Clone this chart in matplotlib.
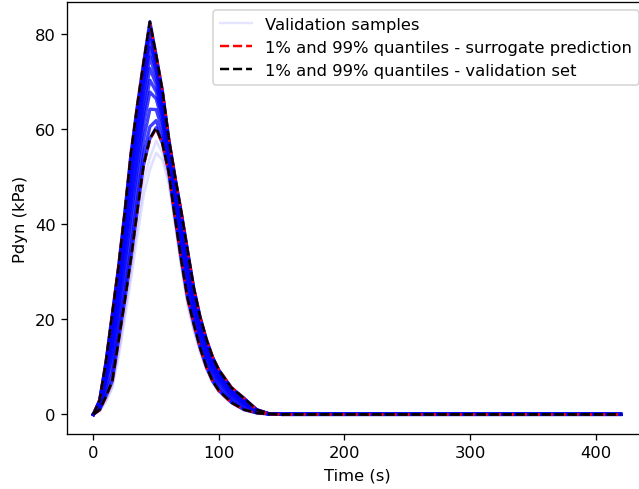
import numpy as np
import matplotlib
matplotlib.use('Agg')
import matplotlib.pyplot as plt

# time grid (s)
time = [0, 5, 10, 15, 20, 25, 30, 35, 40, 45, 50, 55, 60, 65, 70, 75, 80, 85, 90,
        95, 100, 110, 120, 130, 140, 150, 420]

# 99% and 1% quantiles of the validation set
q99_val = [0, 3.0, 11.0, 21.0, 31.0, 42.5, 55.0, 65.0, 74.0, 82.6, 75.5, 68.0, 58.0, 50.0,
           42.5, 34.5, 26.5, 20.5, 15.8, 12.0, 9.3, 5.6, 3.4, 1.0, 0.15, 0, 0]
q01_val = [0, 1.0, 3.8, 7.0, 15.5, 24.0, 33.0, 43.0, 52.5, 58.0, 60.3, 57.0, 51.0, 41.5,
           32.5, 24.5, 19.0, 14.0, 10.0, 7.0, 5.0, 2.5, 1.0, 0.3, 0.05, 0, 0]

# same quantiles from the surrogate prediction
q99_sur = [0, 3.1, 11.2, 21.2, 31.3, 42.8, 55.2, 65.2, 74.1, 82.4, 75.6, 68.2, 58.3, 50.2,
           42.7, 34.6, 26.6, 20.6, 15.9, 12.1, 9.4, 5.7, 3.4, 1.0, 0.15, 0, 0]
q01_sur = [0, 0.9, 3.7, 6.9, 15.3, 23.8, 32.8, 42.8, 52.3, 57.8, 60.1, 56.8, 50.8, 41.3,
           32.3, 24.3, 18.9, 13.9, 9.9, 6.9, 4.9, 2.4, 1.0, 0.3, 0.05, 0, 0]

# validation samples (bulk of the set)
samples = [
    q99_val,
    q01_val,
    [0, 1.2, 4.5, 8.4, 17.1, 25.9, 35.2, 45.2, 54.7, 60.5, 61.8, 58.1, 51.7, 42.4, 33.5, 25.5, 19.8, 14.7, 10.6, 7.5, 5.4, 2.8, 1.2, 0.4, 0.1, 0, 0],
    [0, 1.5, 5.6, 10.5, 19.4, 28.6, 38.5, 48.5, 57.9, 64.2, 64.1, 59.8, 52.8, 43.6, 35.0, 27.0, 20.9, 15.6, 11.5, 8.3, 6.1, 3.3, 1.6, 0.5, 0.1, 0, 0],
    [0, 1.8, 6.7, 12.6, 21.7, 31.4, 41.8, 51.8, 61.1, 67.8, 66.4, 61.4, 53.8, 44.9, 36.5, 28.5, 22.0, 16.6, 12.3, 9.0, 6.7, 3.7, 2.0, 0.6, 0.1, 0, 0],
    [0, 2.0, 7.4, 14.0, 23.3, 33.3, 44.0, 54.0, 63.3, 70.3, 67.9, 62.5, 54.5, 45.8, 37.5, 29.5, 22.8, 17.3, 12.9, 9.5, 7.2, 4.1, 2.2, 0.7, 0.1, 0, 0],
    [0, 2.2, 8.1, 15.4, 24.8, 35.1, 46.2, 56.2, 65.4, 72.8, 69.4, 63.6, 55.2, 46.6, 38.5, 30.5, 23.5, 17.9, 13.5, 10.0, 7.6, 4.4, 2.4, 0.7, 0.1, 0, 0],
    [0, 2.4, 8.8, 16.8, 26.4, 37.0, 48.4, 58.4, 67.6, 75.2, 70.9, 64.7, 55.9, 47.5, 39.5, 31.5, 24.3, 18.6, 14.1, 10.5, 8.0, 4.7, 2.7, 0.8, 0.1, 0, 0],
    [0, 2.6, 9.4, 17.9, 27.6, 38.4, 50.2, 60.2, 69.3, 77.2, 72.2, 65.6, 56.5, 48.1, 40.3, 32.3, 24.9, 19.1, 14.5, 10.9, 8.4, 4.9, 2.9, 0.8, 0.1, 0, 0],
    [0, 2.7, 9.9, 18.9, 28.7, 39.7, 51.7, 61.7, 70.8, 78.9, 73.2, 66.4, 57.0, 48.7, 41.0, 33.0, 25.4, 19.5, 14.9, 11.3, 8.7, 5.1, 3.0, 0.9, 0.1, 0, 0],
    [0, 2.8, 10.4, 19.9, 29.8, 41.0, 53.2, 63.2, 72.3, 80.6, 74.3, 67.1, 57.4, 49.3, 41.7, 33.7, 25.9, 20.0, 15.3, 11.6, 9.0, 5.4, 3.2, 0.9, 0.1, 0, 0],
    [0, 2.9, 10.8, 20.6, 30.5, 41.9, 54.3, 64.3, 73.4, 81.9, 75.0, 67.7, 57.8, 49.7, 42.2, 34.2, 26.3, 20.3, 15.6, 11.9, 9.2, 5.5, 3.3, 1.0, 0.1, 0, 0],
]

# a few low samples below the 1% quantile
outliers = [
    [0, 0.8, 3.0, 6.0, 13.0, 21.5, 30.5, 40.0, 49.0, 54.0, 57.5, 55.0, 49.5, 40.5, 31.5, 23.5, 18.0, 13.5, 9.6, 6.8, 4.8, 2.4, 0.9, 0.3, 0.05, 0, 0],
    [0, 0.7, 2.7, 5.5, 12.0, 20.0, 28.5, 37.5, 46.0, 51.5, 55.0, 53.5, 48.5, 40.0, 31.0, 23.0, 17.5, 13.0, 9.4, 6.6, 4.7, 2.3, 0.9, 0.3, 0.05, 0, 0],
]

DPI = 118
fig = plt.figure(figsize=(639 / DPI, 490 / DPI), dpi=DPI)
ax = fig.add_axes([0.1049, 0.1122, 0.9077, 0.8816])

for s in outliers:
    ax.plot(time, s, color='blue', alpha=0.12, lw=1.6)
for i, s in enumerate(samples):
    ax.plot(time, s, color='blue', alpha=0.75, lw=2.0,
            label='Validation samples' if i == 0 else None)

ax.plot(time, q99_sur, '--', color='red', label='1% and 99% quantiles - surrogate prediction')
ax.plot(time, q01_sur, '--', color='red')
ax.plot(time, q99_val, '--', color='black', label='1% and 99% quantiles - validation set')
ax.plot(time, q01_val, '--', color='black')

ax.set_xlabel('Time (s)')
ax.set_ylabel('Pdyn (kPa)')
ax.set_yticks([0, 20, 40, 60, 80])

leg = ax.legend(loc='upper right')
leg.legend_handles[0].set_alpha(0.1)
leg.legend_handles[0].set_linewidth(1.5)

fig.savefig('out.png', dpi=DPI)
